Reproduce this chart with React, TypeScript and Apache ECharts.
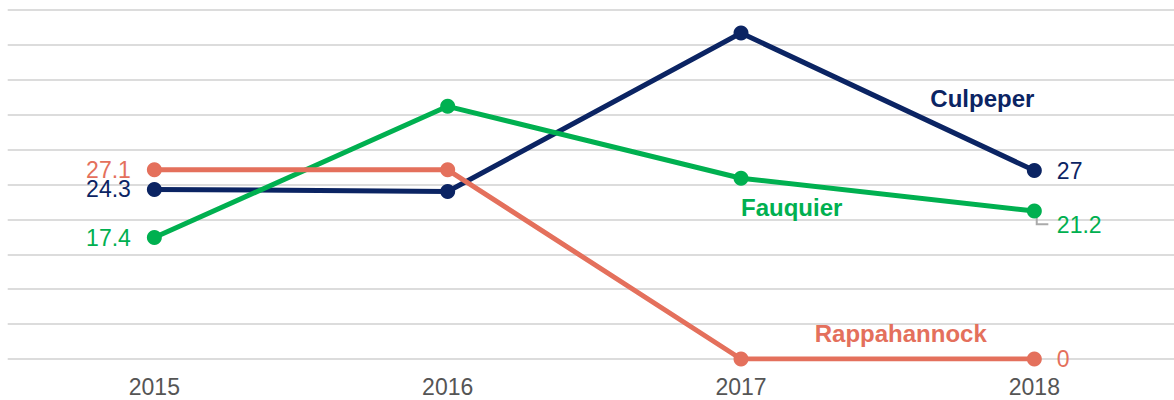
import React, { useEffect, useRef } from "react";
import * as echarts from "echarts";

const years = ["2015", "2016", "2017", "2018"];
const culpeper = [24.3, 24.0, 46.7, 27];
const fauquier = [17.4, 36.2, 25.9, 21.2];
const rappahannock = [27.1, 27.1, 0, 0];

const seriesNames = ["Culpeper", "Fauquier", "Rappahannock"];
const seriesColors = ["#0b2463", "#00b050", "#e4705c"];
// name-label anchor positions (category, value) for annotations
const nameAnchors: [string, number][] = [
  ["2018", 37.25],
  ["2017", 21.7],
  ["2018", 3.7],
];

export default function App() {
  const ref = useRef<HTMLDivElement>(null);
  useEffect(() => {
    document.body.style.margin = "0";
    const chart = echarts.init(ref.current!, null, { renderer: "svg" });
    const all = [culpeper, fauquier, rappahannock];
    const font = "Liberation Sans, Arial, Helvetica, sans-serif";
    const series = all.map((vals, si) => {
      const color = seriesColors[si];
      const data = vals.map((v, i) => {
        const item: any = { value: v };
        if (i === 0) {
          item.label = { show: true, position: "left", distance: 16 };
        } else if (i === vals.length - 1) {
          item.label = { show: true, position: "right", distance: 15 };
        } else {
          item.label = { show: false };
        }
        return item;
      });
      const anchor = nameAnchors[si];
      const nameLabel: any = {
        show: true,
        formatter: seriesNames[si],
        color,
        fontWeight: "bold",
        fontSize: 24,
        fontFamily: font,
        position: "inside",
        align: si === 1 ? "left" : "right",
        verticalAlign: "middle",
      };
      if (si === 2) nameLabel.offset = [-47.6, 0];
      return {
        name: seriesNames[si],
        type: "line",
        data,
        symbol: "circle",
        symbolSize: 15,
        lineStyle: { color, width: 5 },
        itemStyle: { color },
        label: {
          color,
          fontSize: 23,
          lineHeight: 19,
          fontFamily: font,
        },
        labelLayout: (p: any) =>
          si === 1 && p.dataIndex === vals.length - 1 ? { dy: 14 } : {},
        markPoint: {
          symbol: "circle",
          symbolSize: 0,
          silent: true,
          data: [{ coord: [anchor[0], anchor[1]], label: nameLabel }],
        },
      };
    });
    chart.setOption({
      animation: false,
      grid: { left: 7.7, right: 0, top: 10, bottom: 41 },
      xAxis: {
        type: "category",
        data: years,
        boundaryGap: true,
        axisLine: { show: false },
        axisTick: { show: false },
        axisLabel: {
          color: "#555555",
          fontSize: 23,
          fontFamily: font,
          margin: 16,
        },
      },
      yAxis: {
        type: "value",
        min: 0,
        max: 50,
        interval: 5,
        axisLabel: { show: false },
        axisLine: { show: false },
        axisTick: { show: false },
        splitLine: { lineStyle: { color: "#dcdcdc", width: 2 } },
      },
      series,
    });
    // leader line for the shifted Fauquier end label, anchored on its data point
    const lastIdx = years.length - 1;
    const p = chart.convertToPixel({ seriesIndex: 1 }, [
      lastIdx,
      fauquier[lastIdx],
    ]) as number[];
    if (p && isFinite(p[0])) {
      chart.setOption({
        graphic: [
          {
            type: "polyline",
            z: 1,
            shape: {
              points: [
                [p[0] + 2.4, p[1] + 4],
                [p[0] + 2.4, p[1] + 13.3],
                [p[0] + 14, p[1] + 13.3],
              ],
            },
            style: { stroke: "#aaaaaa", lineWidth: 2, fill: "none" },
          },
        ],
      });
    }
    return () => chart.dispose();
  }, []);
  return (
    <div style={{ width: 1174, height: 400, overflow: "hidden" }}>
      <div ref={ref} style={{ width: 1181, height: 400 }} />
    </div>
  );
}
